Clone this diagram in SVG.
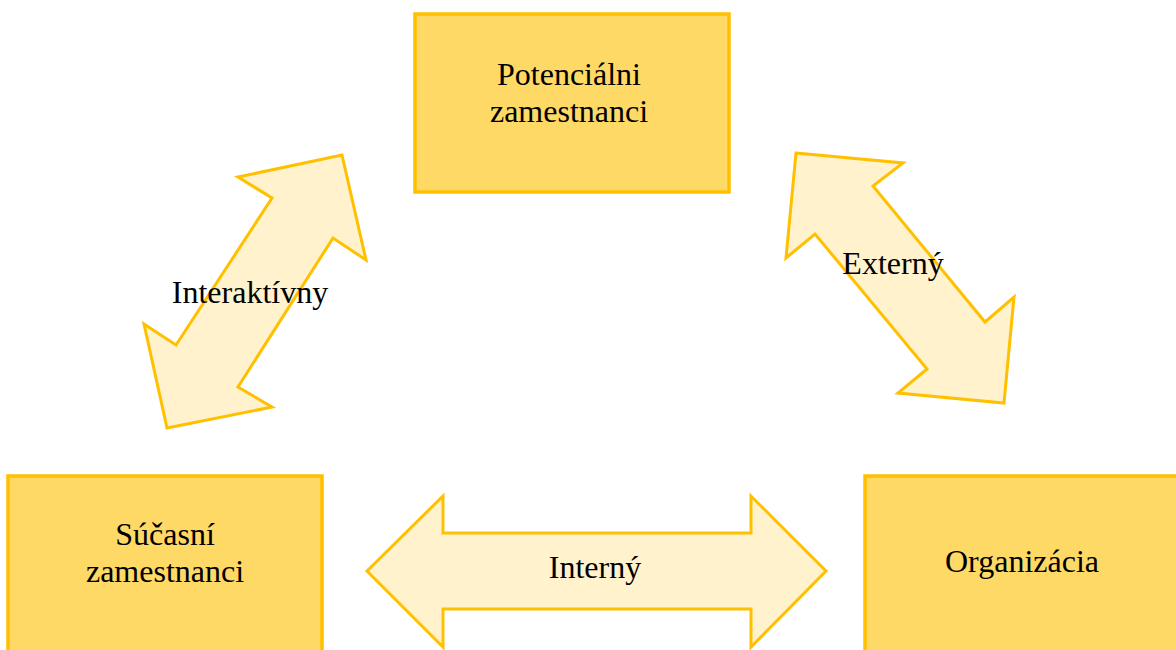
<svg xmlns="http://www.w3.org/2000/svg" width="1176" height="650" viewBox="0 0 1176 650">
<style>
.box{fill:#FFD966;stroke:#FFC000;stroke-width:3.5}
.arr{fill:#FFF2CC;stroke:#FFC000;stroke-width:3;stroke-linejoin:miter}
text{font-family:"Liberation Serif","Times New Roman",serif;font-size:32px;fill:#000;text-anchor:middle}
</style>
<rect width="1176" height="650" fill="#fff"/>
<g id="connectors">
<g id="arrow-interaktivny">
<polygon class="arr" points="342,155 366,260 333,238 238,387 272,407 167,428 144,324 176,345 272,198 238,177"/>
<text x="250" y="303">Interaktívny</text>
</g>
<g id="arrow-externy">
<polygon class="arr" points="796,153 903,163 873,186 985,322 1014,297 1004,403 898,393 927,369 815,234 786,258"/>
<text x="893" y="274">Externý</text>
</g>
<g id="arrow-interny">
<polygon class="arr" points="367,571 443,496 443,533 751,533 751,496 826,571 751,647 751,609 443,609 443,647"/>
<text x="595" y="578">Interný</text>
</g>
</g>
<g id="node-potencialni">
<rect class="box" x="415" y="14" width="314" height="178"/>
<text x="569" y="85">Potenciálni</text>
<text x="569" y="122">zamestnanci</text>
</g>
<g id="node-sucasni">
<rect class="box" x="8" y="476" width="314" height="190"/>
<text x="165" y="545">Súčasní</text>
<text x="165" y="582">zamestnanci</text>
</g>
<g id="node-organizacia">
<rect class="box" x="865" y="476" width="330" height="190"/>
<text x="1022" y="572">Organizácia</text>
</g>
</svg>
